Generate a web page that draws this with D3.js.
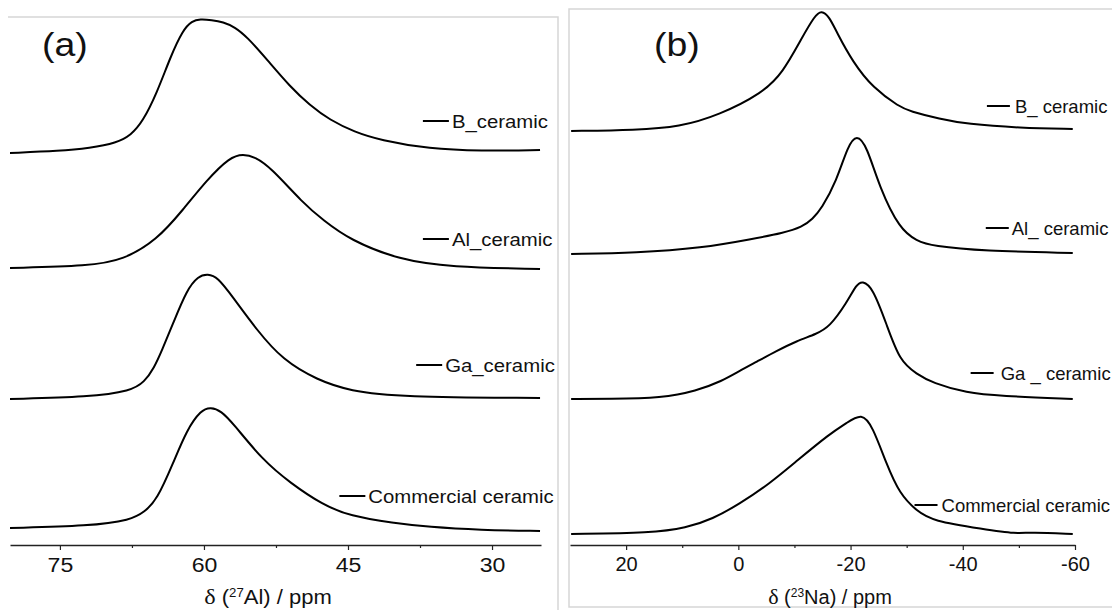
<!DOCTYPE html>
<html>
<head>
<meta charset="utf-8">
<script src="https://cdn.jsdelivr.net/npm/d3@7"></script>
<style>
  body { margin: 0; background: #fff; }
  svg text { font-family: "Liberation Sans", Arial, sans-serif; fill: #111; }
</style>
</head>
<body>
<script>
// Spectra: [chemical shift (ppm), intensity (a.u., stacked)]
var alB = [[80.2,39.2],[75.0,39.4],[71.9,39.7],[69.1,40.2],[67.6,41.0],[66.4,42.3],[64.9,45.2],[63.5,48.8],[62.2,51.5],[61.25,52.4],[60.4,52.6],[59.2,52.5],[58.0,52.3],[56.8,51.8],[55.5,50.8],[53.4,48.5],[51.0,45.8],[49.0,44.0],[46.9,42.5],[44.3,41.3],[41.7,40.5],[36.5,39.6],[31.25,39.4],[25.0,39.5]];
var alAl = [[80.2,27.7],[71.9,27.9],[68.4,28.5],[64.9,30.5],[62.2,33.5],[59.7,36.5],[57.3,38.8],[55.9,39.1],[54.7,38.8],[53.1,37.8],[49.7,34.2],[47.6,32.5],[44.8,30.5],[39.6,28.5],[34.4,27.8],[25.0,27.6]];
var alGa = [[80.2,14.6],[71.9,14.8],[67.6,15.4],[66.2,16.3],[65.2,17.7],[64.4,19.4],[63.2,22.2],[61.8,25.5],[60.6,26.9],[59.6,27.1],[58.6,26.8],[57.0,24.8],[54.5,21.5],[51.8,18.5],[48.2,16.5],[44.8,15.4],[39.6,14.8],[25.0,14.7]];
var alCom = [[80.2,1.7],[71.9,1.9],[67.6,2.5],[66.2,3.3],[64.9,4.5],[63.2,8.2],[61.8,11.5],[60.3,13.5],[59.3,13.8],[58.2,13.4],[57.0,12.2],[53.9,8.5],[51.0,6.2],[47.6,4.0],[44.8,2.9],[40.3,2.2],[36.6,1.8],[31.25,1.5],[25.0,1.4]];

var naB = [[29.8,41.4],[18.2,41.5],[10.5,41.8],[3.4,43.0],[-4.3,45.2],[-7.9,47.2],[-11.4,50.8],[-13.6,52.9],[-14.8,53.5],[-16.25,52.8],[-17.5,51.3],[-20.4,48.3],[-24.0,45.7],[-28.75,43.8],[-30.5,43.4],[-35.9,42.6],[-40.7,42.1],[-50.2,41.7],[-59.6,41.6]];
var naAl = [[29.8,29.1],[18.2,29.2],[6.4,29.7],[-2.5,30.6],[-8.0,31.2],[-11.4,31.8],[-13.2,32.6],[-14.8,33.6],[-17.5,36.4],[-19.5,39.9],[-21.1,41.1],[-22.9,39.9],[-25.2,35.7],[-28.75,31.6],[-31.8,30.4],[-34.6,29.9],[-43.6,29.4],[-59.6,29.2]];
var naGa = [[29.8,14.6],[23.0,14.6],[13.6,14.7],[7.5,15.4],[2.9,16.4],[-0.2,17.4],[-3.2,18.3],[-6.8,19.4],[-10.4,20.4],[-13.9,21.1],[-16.25,21.8],[-19.3,24.2],[-21.1,26.1],[-22.1,26.4],[-23.9,25.8],[-26.4,22.1],[-28.75,18.4],[-31.8,17.1],[-34.6,16.2],[-40.7,15.2],[-46.6,14.9],[-59.6,14.6]];
var naCom = [[29.8,1.1],[15.4,1.2],[9.3,1.7],[4.6,2.6],[-0.2,4.1],[-5.5,6.1],[-10.4,8.4],[-16.25,11.1],[-19.3,12.2],[-22.0,13.2],[-23.9,11.9],[-26.4,8.1],[-28.75,5.1],[-31.8,3.4],[-34.6,2.4],[-43.6,1.6],[-49.6,1.1],[-52.0,1.3],[-59.6,1.1]];

var namesA = ["B_ceramic", "Al_ceramic", "Ga_ceramic", "Commercial ceramic"];
var namesB = ["B_ ceramic", "Al_ ceramic", "Ga _ ceramic", "Commercial ceramic"];
var ticksA = [75, 60, 45, 30];
var minorA = [67.5, 52.5, 37.5];
var ticksB = [20, 0, -20, -40, -60];
var minorB = [10, -10, -30, -50];

// Where each legend dash starts (ppm, intensity)
var keyA = [[37.2,42.4],[37.2,30.6],[37.9,18.0],[45.9,4.9]];
var keyB = [[-44.3,43.9],[-44.1,31.7],[-41.4,17.2],[-31.4,4.0]];

var width = 1112, height = 610;

var svg = d3.select("body").append("svg")
    .attr("width", width)
    .attr("height", height);

var xA = d3.scaleLinear().domain([80.2, 24.9]).range([10, 541]);
var xB = d3.scaleLinear().domain([30, -60]).range([570, 1075]);
var y = d3.scaleLinear().domain([0, 54]).range([545, 5]);

// Light frames around the two panels
var frame = "#d6d6d6";
svg.append("path").attr("d", "M8,17H558V610").attr("fill", "none").attr("stroke", frame).attr("stroke-width", 1.5);
svg.append("path").attr("d", "M1112,9H569V607H1112").attr("fill", "none").attr("stroke", frame).attr("stroke-width", 1.5);

function drawPanel(x, series, names, keys, ticks, minor, stretch, opts) {
    var g = svg.append("g");
    var line = d3.line()
        .x(function (d) { return x(d[0]); })
        .y(function (d) { return y(d[1]); })
        .curve(d3.curveBasis);

    g.selectAll("path.trace")
        .data(series)
        .enter().append("path")
        .attr("class", "trace")
        .attr("d", line)
        .attr("fill", "none")
        .attr("stroke", "#000")
        .attr("stroke-width", 2);

    // legend dash + name next to each trace
    keys.forEach(function (k, i) {
        var x0 = x(k[0]), y0 = y(k[1]);
        g.append("line")
            .attr("x1", x0).attr("x2", x0 + opts.dash)
            .attr("y1", y0).attr("y2", y0)
            .attr("stroke", "#000").attr("stroke-width", 2);
        g.append("text")
            .attr("transform", "translate(" + (x0 + opts.dash + opts.gap[i]) + "," + (y0 + 6.5) + ") scale(" + stretch + ",1)")
            .style("font-size", opts.keyFont + "px")
            .text(names[i]);
    });

    // major ticks with labels (plain hyphen for negatives, as in the figure)
    var axis = g.append("g")
        .attr("transform", "translate(0," + y(0) + ")")
        .call(d3.axisBottom(x).tickValues(ticks).tickSize(5).tickSizeOuter(0).tickPadding(7)
            .tickFormat(function (d) { return String(d); }));
    axis.select(".domain").attr("stroke", "#222").attr("stroke-width", 1.5);
    axis.selectAll(".tick line").attr("stroke", "#222").attr("stroke-width", 1.2);
    axis.selectAll(".tick text")
        .style("font-size", opts.tickFont + "px")
        .style("font-family", "Liberation Sans, Arial, sans-serif")
        .attr("fill", "#111")
        .attr("transform", "scale(" + stretch + ",1)");

    // minor ticks
    var axisMinor = g.append("g")
        .attr("transform", "translate(0," + y(0) + ")")
        .call(d3.axisBottom(x).tickValues(minor).tickSize(3).tickSizeOuter(0).tickFormat(""));
    axisMinor.select(".domain").remove();
    axisMinor.selectAll(".tick line").attr("stroke", "#222").attr("stroke-width", 1.2);

    // axis title
    var title = g.append("text")
        .attr("transform", "translate(" + opts.titleX + ",604) scale(" + stretch + ",1)")
        .attr("text-anchor", "middle")
        .style("font-size", "20px");
    title.append("tspan").style("font-family", "Liberation Serif, serif").style("font-size", "22px").text("\u03b4");
    title.append("tspan").text(" (");
    title.append("tspan").attr("dy", -7).style("font-size", "12px").text(opts.iso);
    title.append("tspan").attr("dy", 7).text(opts.nuc + ") / ppm");

    // panel letter
    g.append("text")
        .attr("transform", "translate(" + opts.letterX + ",56) scale(1.1,1)")
        .style("font-size", "34px")
        .text(opts.letter);
}

drawPanel(xA, [alB, alAl, alGa, alCom], namesA, keyA, ticksA, minorA, 1.1, {
    dash: 26, gap: [3, 3, 3, 3], keyFont: 18.5, tickFont: 21,
    titleX: 268, iso: "27", nuc: "Al", letter: "(a)", letterX: 42
});

drawPanel(xB, [naB, naAl, naGa, naCom], namesB, keyB, ticksB, minorB, 1.0, {
    dash: 23, gap: [5, 3, 7, 4], keyFont: 18.5, tickFont: 20,
    titleX: 830, iso: "23", nuc: "Na", letter: "(b)", letterX: 654
});
</script>
</body>
</html>
